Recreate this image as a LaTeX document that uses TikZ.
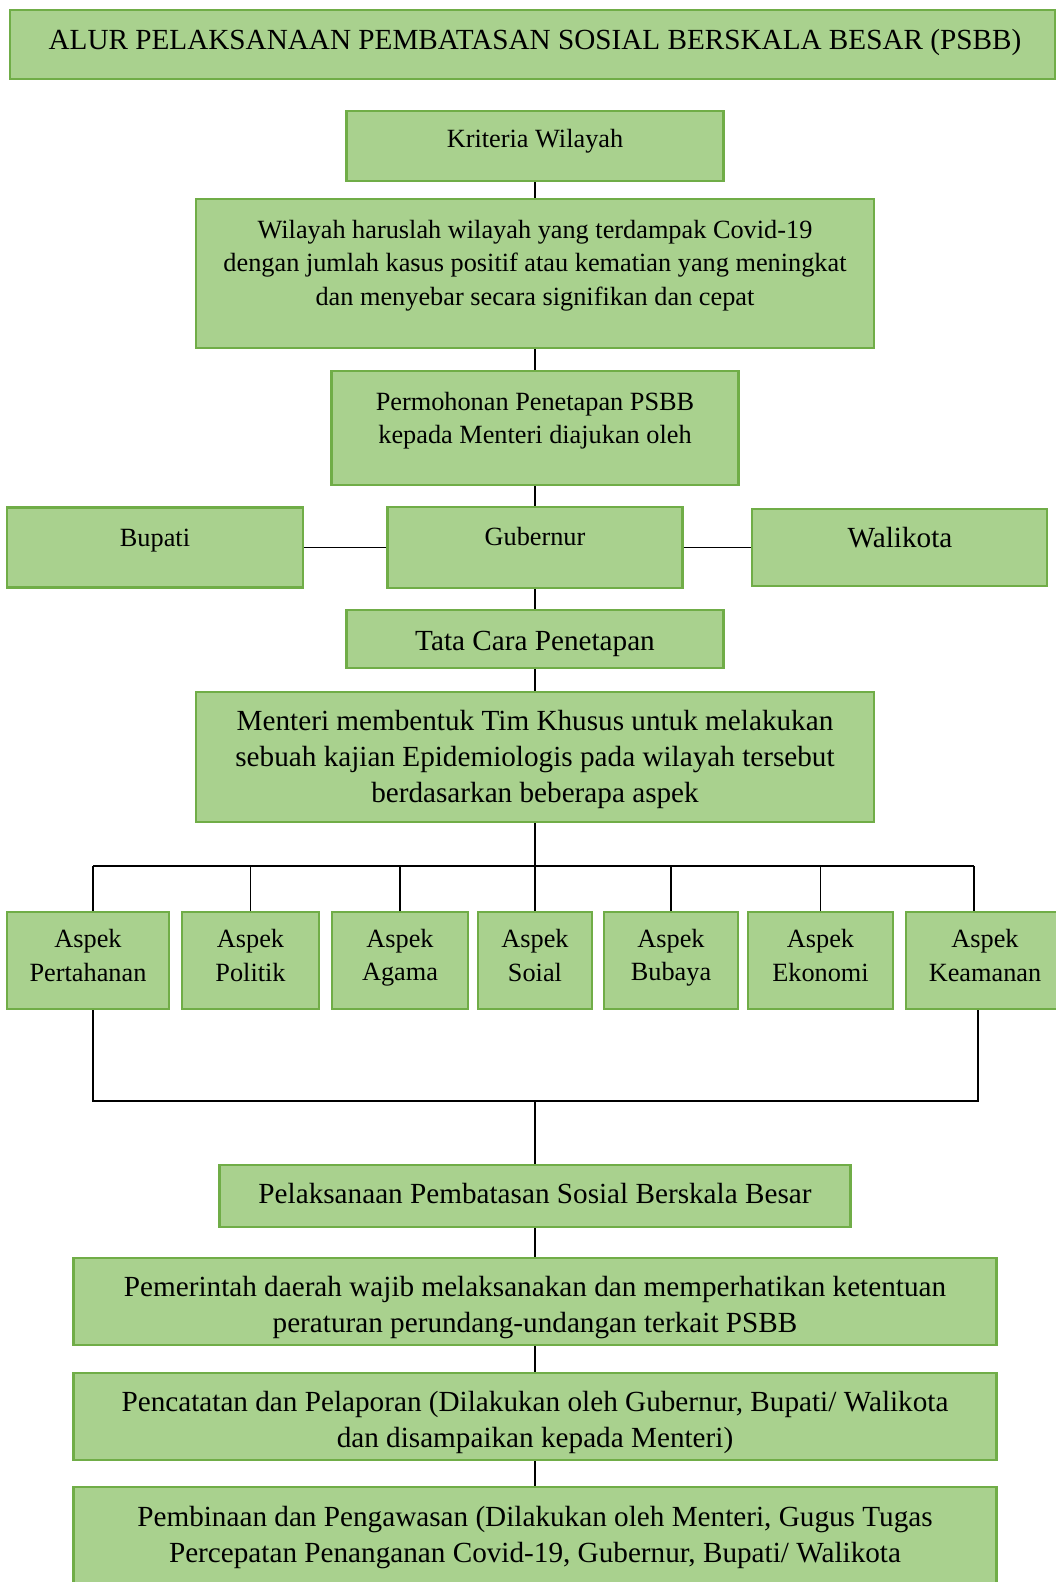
\documentclass[tikz,border=0pt]{standalone}
\usepackage{xcolor}
\usepackage{fontspec}
\setmainfont{Liberation Serif}
\usepackage{tikz}

\definecolor{boxfill}{HTML}{A9D18E}
\definecolor{boxline}{HTML}{70AD47}

\begin{document}
\begin{tikzpicture}[x=1pt, y=-1pt,
    box/.style={draw=boxline, fill=boxfill, line width=2.5pt, inner sep=0pt},
    small/.style={align=center, inner sep=0pt, font=\fontsize{26.3}{33.5}\selectfont},
    big/.style={align=center, inner sep=0pt, font=\fontsize{29.2}{36}\selectfont},
    link/.style={line width=1.4pt},
    joinline/.style={line width=1.6pt}]

    \useasboundingbox (0,0) rectangle (1055,1582);

    % title
    \node[box, minimum width=1045, minimum height=69] (title) at (532.5,44.5) {};
    \node[big] (titleT) at (535,42) {ALUR PELAKSANAAN PEMBATASAN SOSIAL BERSKALA BESAR (PSBB)};

    % kriteria wilayah
    \node[box, minimum width=377, minimum height=70] (krit) at (535,146) {};
    \node[small] (kritT) at (535,141) {Kriteria Wilayah};

    \node[box, minimum width=678, minimum height=149] (wil) at (535,273.5) {};
    \node[small] (wilT) at (535,265.5) {Wilayah haruslah wilayah yang terdampak Covid-19\\
        dengan jumlah kasus positif atau kematian yang meningkat\\
        dan menyebar secara signifikan dan cepat};

    % permohonan
    \node[box, minimum width=407, minimum height=114] (perm) at (535,428) {};
    \node[small] (permT) at (535,420.5) {Permohonan Penetapan PSBB\\kepada Menteri diajukan oleh};

    % pengaju
    \node[box, minimum width=296, minimum height=80] (bup) at (155,547.5) {};
    \node[small] (bupT) at (155,540.5) {Bupati};

    \node[box, minimum width=295, minimum height=81] (gub) at (535,547.5) {};
    \node[small] (gubT) at (535,536.5) {Gubernur};

    \node[box, minimum width=295, minimum height=77] (wal) at (899.5,547.5) {};
    \node[big] (walT) at (900,537.5) {Walikota};

    % tata cara
    \node[box, minimum width=377, minimum height=58] (tata) at (535,639) {};
    \node[big] (tataT) at (535,643.5) {Tata Cara Penetapan};

    \node[box, minimum width=678, minimum height=130] (ment) at (535,757) {};
    \node[big] (mentT) at (535,759) {Menteri membentuk Tim Khusus untuk melakukan\\
        sebuah kajian Epidemiologis pada wilayah tersebut\\
        berdasarkan beberapa aspek};

    % aspek
    \node[box, minimum width=162, minimum height=97] (pert) at (88,960.5) {};
    \node[small] (pertT) at (88,955.5) {Aspek\\Pertahanan};

    \node[box, minimum width=137, minimum height=97] (pol) at (250.5,960.5) {};
    \node[small] (polT) at (250.5,955.5) {Aspek\\Politik};

    \node[box, minimum width=136, minimum height=97] (aga) at (400,960.5) {};
    \node[small] (agaT) at (400,957.5) {Aspek\\Agama};

    \node[box, minimum width=114, minimum height=97] (soi) at (535,960.5) {};
    \node[small] (soiT) at (535,955.5) {Aspek\\Soial};

    \node[box, minimum width=134, minimum height=97] (bud) at (671,960.5) {};
    \node[small] (budT) at (671,957.5) {Aspek\\Bubaya};

    \node[box, minimum width=145, minimum height=97] (eko) at (820.5,960.5) {};
    \node[small] (ekoT) at (820.5,955.5) {Aspek\\Ekonomi};

    \node[box, minimum width=158, minimum height=97] (kea) at (985,960.5) {};
    \node[small] (keaT) at (985,955.5) {Aspek\\Keamanan};

    % pelaksanaan
    \node[box, minimum width=631, minimum height=62] (pel) at (535,1196) {};
    \node[big] (pelT) at (535,1193) {Pelaksanaan Pembatasan Sosial Berskala Besar};

    \node[box, minimum width=923, minimum height=87] (pem) at (535,1301.5) {};
    \node[big] (pemT) at (535,1307.5) {Pemerintah daerah wajib melaksanakan dan memperhatikan ketentuan\\
        peraturan perundang-undangan terkait PSBB};

    \node[box, minimum width=923, minimum height=87] (pen) at (535,1416.5) {};
    \node[big] (penT) at (535,1422.5) {Pencatatan dan Pelaporan (Dilakukan oleh Gubernur, Bupati/ Walikota\\
        dan disampaikan kepada Menteri)};

    \node[box, minimum width=923, minimum height=150] (pbn) at (535,1562) {};
    \node[big] (pbnT) at (535,1537.5) {Pembinaan dan Pengawasan (Dilakukan oleh Menteri, Gugus Tugas\\
        Percepatan Penanganan Covid-19, Gubernur, Bupati/ Walikota};

    % alur atas
    \draw[link] (krit.south) -- (wil.north);
    \draw[link] (wil.south) -- (perm.north);
    \draw[link] (perm.south) -- (gub.north);
    \draw[link] (bup.east) -- (gub.west);
    \draw[link] (gub.east) -- (wal.west);
    \draw[link] (gub.south) -- (tata.north);
    \draw[link] (tata.south) -- (ment.north);
    \draw[link] (ment.south) -- (soi.north);

    % cabang aspek
    \coordinate (busL) at (93,866);
    \coordinate (busR) at (974,866);
    \draw[link] (busL) -- (busR);
    \draw[link] (busL) -- (busL |- pert.north);
    \draw[link] (pol.north) -- (pol.north |- busL);
    \draw[link] (aga.north) -- (aga.north |- busL);
    \draw[link] (bud.north) -- (bud.north |- busL);
    \draw[link] (eko.north) -- (eko.north |- busL);
    \draw[link] (busR) -- (busR |- kea.north);

    % gabungan
    \coordinate (joinL) at (93,1101);
    \coordinate (joinR) at (978,1101);
    \coordinate (joinC) at (535,1101);
    \draw[joinline] (joinL |- pert.south) -- (joinL) -- (joinR) -- (joinR |- kea.south);
    \draw[joinline] (joinC) -- (pel.north);

    % alur bawah
    \draw[link] (pel.south) -- (pem.north);
    \draw[link] (pem.south) -- (pen.north);
    \draw[link] (pen.south) -- (pbn.north);

\end{tikzpicture}
\end{document}
